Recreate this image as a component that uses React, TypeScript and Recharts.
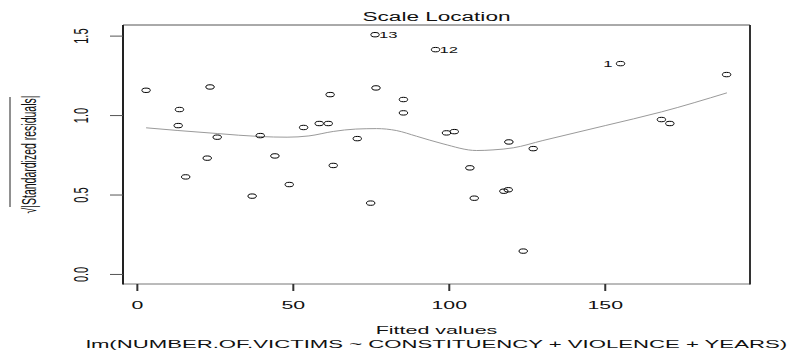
import React from 'react';
import { ComposedChart, Scatter, Line, XAxis, YAxis, Customized } from 'recharts';

// ---- data ----
const fittedValues = [
  2.8, 23.3, 13.5, 13.1, 25.6, 39.4, 53.3, 58.3, 61.2, 61.8,
  76.2, 95.6, 76.5, 85.3, 85.3, 70.5, 99.1, 101.6, 119.1, 126.9,
  154.9, 188.9, 168.0, 170.7, 22.4, 44.1, 15.5, 48.7, 36.8, 62.8,
  74.8, 106.6, 108.0, 117.5, 118.9, 123.7,
];
const sqrtStdResiduals = [
  1.159, 1.18, 1.038, 0.937, 0.864, 0.874, 0.925, 0.95, 0.95, 1.132,
  1.509, 1.415, 1.174, 1.101, 1.017, 0.855, 0.891, 0.899, 0.834, 0.792,
  1.327, 1.258, 0.975, 0.95, 0.732, 0.746, 0.614, 0.566, 0.493, 0.686,
  0.449, 0.671, 0.48, 0.524, 0.533, 0.147,
];
const pointIds = [
  '', '', '', '', '', '', '', '', '', '',
  '13', '12', '', '', '', '', '', '', '', '',
  '1', '', '', '', '', '', '', '', '', '',
  '', '', '', '', '', '',
];
const smoothX = [2.8, 13, 25.6, 39.4, 48, 55, 62.8, 70, 76.7, 83, 89.5, 98, 108.8, 114, 120.5, 130, 150, 168, 189];
const smoothY = [0.923, 0.906, 0.887, 0.868, 0.864, 0.872, 0.9, 0.915, 0.918, 0.906, 0.87, 0.822, 0.78, 0.784, 0.797, 0.843, 0.937, 1.023, 1.143];

const xTicks = [0, 50, 100, 150];
const yTicks = [0, 0.5, 1.0, 1.5];
const xDomain = [-4.6, 196.4];
const yDomain = [-0.06, 1.57];

const titleText = 'Scale Location';
const xLabelText = 'Fitted values';
const subLabelText = 'lm(NUMBER.OF.VICTIMS ~ CONSTITUENCY + VIOLENCE + YEARS)';
const yLabelText = '√|Standardized residuals|';

// ---- layout / style ----
const W = 791;
const H = 354;
const PLOT = { left: 123, top: 25, right: 750, bottom: 284 };
const Y_AXIS_W = 60;
const X_AXIS_H = 30;
const SX = 1.85; // horizontal stretch of the reference image
const FONT = '"Liberation Sans", Arial, Helvetica, sans-serif';
const INK = '#111';

const pointData = fittedValues.map((x, i) => ({ x, y: sqrtStdResiduals[i], id: pointIds[i] }));
const smoothData = smoothX.map((x, i) => ({ x, y: smoothY[i] }));
const midRange = (Math.min(...fittedValues) + Math.max(...fittedValues)) / 2;

const XTick = (props: any) => {
  const { x, payload } = props;
  return (
    <text
      transform={`translate(${x},309) scale(${SX},1)`}
      textAnchor="middle"
      fontFamily={FONT}
      fontSize={11.5}
      fill={INK}
    >
      {String(payload.value)}
    </text>
  );
};

const YTick = (props: any) => {
  const { y, payload } = props;
  return (
    <text
      transform={`translate(88,${y}) scale(${SX},1) rotate(-90)`}
      textAnchor="middle"
      fontFamily={FONT}
      fontSize={11}
      fill={INK}
    >
      {Number(payload.value).toFixed(1)}
    </text>
  );
};

const PointShape = (props: any) => {
  const { cx, cy, payload } = props;
  if (cx == null || cy == null) return <g />;
  const id = payload?.id;
  const left = payload && payload.x > midRange;
  return (
    <g>
      <ellipse cx={cx} cy={cy} rx={4.2} ry={2.2} fill="none" stroke="#000" strokeWidth={1} />
      {id ? (
        <text
          transform={`translate(${left ? cx - 8 : cx + 4},${cy + 3.2}) scale(${SX},1)`}
          textAnchor={left ? 'end' : 'start'}
          fontFamily={FONT}
          fontSize={9}
          fill={INK}
        >
          {id}
        </text>
      ) : null}
    </g>
  );
};

const Decorations = () => {
  const cxMid = (PLOT.left + PLOT.right) / 2;
  const cyMid = (PLOT.top + PLOT.bottom) / 2;
  return (
    <g>
      {/* plot frame */}
      <line x1={PLOT.left} y1={PLOT.top} x2={PLOT.right} y2={PLOT.top} stroke="#555" strokeWidth={1} />
      <line x1={PLOT.left} y1={PLOT.bottom} x2={PLOT.right} y2={PLOT.bottom} stroke="#777" strokeWidth={1} />
      <line x1={PLOT.left} y1={PLOT.top} x2={PLOT.left} y2={PLOT.bottom + 0.5} stroke="#222" strokeWidth={2} />
      <line x1={PLOT.right} y1={PLOT.top} x2={PLOT.right} y2={PLOT.bottom + 0.5} stroke="#333" strokeWidth={2} />
      {/* title */}
      <text transform={`translate(${cxMid},21) scale(${SX},1)`} textAnchor="middle" fontFamily={FONT} fontSize={12.2} fill={INK}>
        {titleText}
      </text>
      {/* x labels */}
      <text transform={`translate(${cxMid},333.5) scale(${SX},1)`} textAnchor="middle" fontFamily={FONT} fontSize={11.6} fill={INK}>
        {xLabelText}
      </text>
      <text transform={`translate(${cxMid},347.5) scale(1.91,1)`} textAnchor="middle" fontFamily={FONT} fontSize={11.6} fill={INK}>
        {subLabelText}
      </text>
      {/* y label */}
      <text transform={`translate(36,${cyMid}) scale(${SX},1) rotate(-90)`} textAnchor="middle" fontFamily={FONT} fontSize={10.5} fill={INK}>
        {yLabelText}
      </text>
      <line x1={10} y1={97} x2={10} y2={207} stroke="#222" strokeWidth={1} />
    </g>
  );
};

export default function App() {
  return (
    <div style={{ position: 'absolute', left: 0, top: 0, width: W, height: H, background: '#fff' }}>
      <ComposedChart
        width={W}
        height={H}
        margin={{
          top: PLOT.top,
          right: W - PLOT.right,
          bottom: H - PLOT.bottom - X_AXIS_H,
          left: PLOT.left - Y_AXIS_W,
        }}
      >
        <XAxis
          type="number"
          dataKey="x"
          domain={xDomain}
          ticks={xTicks}
          allowDataOverflow
          axisLine={false}
          tickLine={{ stroke: '#333', strokeWidth: 2 }}
          tickSize={7}
          height={X_AXIS_H}
          tick={(p: any) => <XTick {...p} />}
          interval={0}
        />
        <YAxis
          type="number"
          dataKey="y"
          domain={yDomain}
          ticks={yTicks}
          allowDataOverflow
          axisLine={false}
          tickLine={{ stroke: '#555', strokeWidth: 1 }}
          tickSize={13}
          width={Y_AXIS_W}
          tick={(p: any) => <YTick {...p} />}
          interval={0}
        />
        <Line
          data={smoothData}
          dataKey="y"
          type="monotone"
          stroke="#9a9a9a"
          strokeWidth={1}
          dot={false}
          activeDot={false}
          isAnimationActive={false}
        />
        <Scatter
          data={pointData}
          dataKey="y"
          shape={(p: any) => <PointShape {...p} />}
          isAnimationActive={false}
        />
        <Customized component={Decorations} />
      </ComposedChart>
    </div>
  );
}
